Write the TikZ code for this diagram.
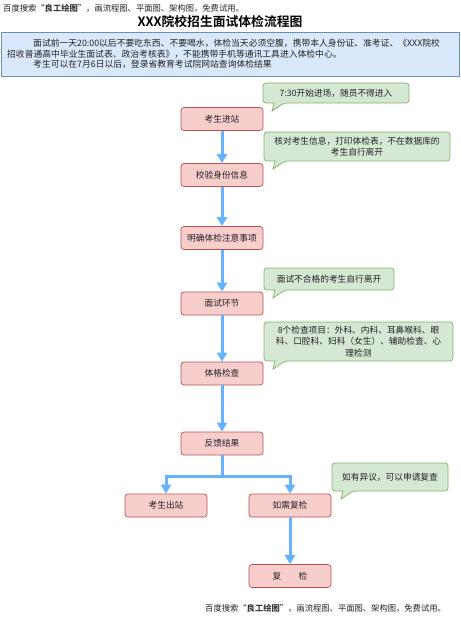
\documentclass[tikz,border=0pt]{standalone}
\usepackage{fontspec}
\setmainfont{Noto Sans CJK SC}[BoldFont={Noto Sans CJK SC Bold}]
\usetikzlibrary{arrows.meta}
\definecolor{pinkf}{HTML}{F8CECC}
\definecolor{pinkd}{HTML}{B85450}
\definecolor{greenf}{HTML}{D5E8D4}
\definecolor{greend}{HTML}{82B366}
\definecolor{bluef}{HTML}{DAE8FC}
\definecolor{blued}{HTML}{6C8EBF}
\definecolor{arrc}{HTML}{66B2FF}
\definecolor{txt}{HTML}{222222}
\newcommand{\mycallout}[4]{%
  \draw[calloutbox] (#1,#2) -- (#3,#2) -- (#3,#4) -- (#1+21,#4)
    [sharp corners] -- (#1+9,#4+8) -- (#1+11,#4) [rounded corners=3pt] -- (#1,#4) -- cycle;}
\begin{document}
\begin{tikzpicture}[x=1pt,y=-1pt,
  stepbox/.style={draw=pinkd, fill=pinkf, rounded corners=3pt, line width=0.7pt,
    minimum width=82pt, minimum height=23pt, inner sep=0pt, text=txt,
    font=\fontsize{8.7}{10}\selectfont},
  calloutbox/.style={draw=greend, fill=greenf, rounded corners=3pt, line width=0.7pt},
  ctext/.style={align=center, text=txt, inner sep=0pt, font=\fontsize{8.7}{11.5}\selectfont},
  plain/.style={anchor=west, inner sep=0pt, text=txt},
  arr/.style={draw=arrc, line width=3pt, -{Triangle[width=10pt,length=9pt]}},
  lin/.style={draw=arrc, line width=3pt}]
\path[use as bounding box, fill=white] (0,0) rectangle (460,620);

% watermark top
\node[plain, font=\fontsize{8.3}{9}\selectfont] (wm1) at (3,8) {百度搜索“\textbf{良工绘图}”，画流程图、平面图、架构图，免费试用。};
% title
\node[inner sep=0pt, font=\bfseries\fontsize{12.8}{14}\selectfont] (title) at (220,22) {XXX院校招生面试体检流程图};
% blue box
\draw[draw=blued, fill=bluef, line width=0.7pt] (1,32) rectangle (459,76);
\node[plain, font=\fontsize{8.8}{10}\selectfont] (l1) at (33,43) {面试前一天20:00以后不要吃东西、不要喝水，体检当天必须空腹，携带本人身份证、准考证、《XXX院校};
\node[plain, font=\fontsize{8.8}{10}\selectfont] (l2) at (7,54) {招收普通高中毕业生面试表、政治考核表》，不能携带手机等通讯工具进入体检中心。};
\node[plain, font=\fontsize{8.8}{10}\selectfont] (l3) at (33,64.5) {考生可以在7月6日以后，登录省教育考试院网站查询体检结果};

% steps
\node[stepbox] (s1) at (222,119) {考生进站};
\node[stepbox] (s2) at (222,175) {校验身份信息};
\node[stepbox] (s3) at (222,238) {明确体检注意事项};
\node[stepbox] (s4) at (222,303.5) {面试环节};
\node[stepbox] (s5) at (222,373.5) {体格检查};
\node[stepbox] (s6) at (222,443.5) {反馈结果};
\node[stepbox] (s7) at (166,505.5) {考生出站};
\node[stepbox] (s8) at (290,505.5) {如需复检};
\node[stepbox] (s9) at (290,576) {复\hspace{2em}检};

% connectors
\draw[arr] (s1) -- (s2);
\draw[arr] (s2) -- (s3);
\draw[arr] (s3) -- (s4);
\draw[arr] (s4) -- (s5);
\draw[arr] (s5) -- (s6);
\coordinate (sp) at (222,476);
\draw[lin] (s6.south) -- (sp);
\draw[arr] (sp) -| (s7.north);
\draw[arr] (sp) -| (s8.north);
\draw[arr] (s8) -- (s9);

% callouts
\mycallout{263}{83}{409}{103}
\node[ctext] (c1) at (336,93) {7:30开始进场，随员不得进入};
\mycallout{264}{132}{450}{161}
\node[ctext] (c2) at (357,146.5) {核对考生信息，打印体检表，不在数据库的\\考生自行离开};
\mycallout{264}{268}{394}{290}
\node[ctext] (c3) at (329,279) {面试不合格的考生自行离开};
\mycallout{264}{322}{453}{361}
\node[ctext] (c4) at (358.5,341.5) {8个检查项目：外科、内科、耳鼻喉科、眼\\科、口腔科、妇科（女生）、辅助检查、心\\理检测};
\mycallout{332}{463}{448}{491}
\node[ctext] (c5) at (390,477) {如有异议，可以申请复查};

% watermark bottom
\node[plain, font=\fontsize{8.3}{9}\selectfont] (wm2) at (205,608) {百度搜索“\textbf{良工绘图}”，画流程图、平面图、架构图，免费试用。};
\end{tikzpicture}
\end{document}
